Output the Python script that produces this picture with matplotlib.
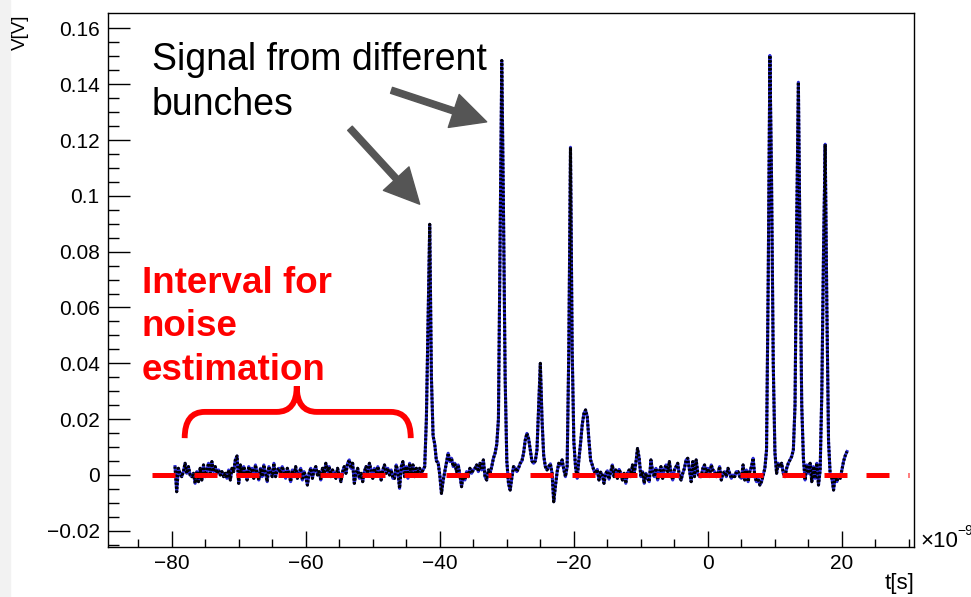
import numpy as np
import matplotlib
matplotlib.use("Agg")
import matplotlib.pyplot as plt
from matplotlib.path import Path
from matplotlib.patches import PathPatch, FancyArrowPatch, Rectangle

plt.rcParams['font.family'] = ['Liberation Sans', 'DejaVu Sans']

# ---------------- data ----------------
t_start_ns = -79.5      # first sample time [ns]
dt_ns = 0.25            # sampling interval [ns]

# waveform samples in mV, 20 samples (5 ns) per row
signal_mV = [
    3.0, -6.0, 2.4, 0.6, -0.6, 1.2, 4.2, 0.6, 3.0, 0.0, -0.6, 0.6, -3.0, 1.2, -2.4, 2.4, -1.8, 3.6, -0.6, 1.8,      # -79.5
    4.2, 0.6, 4.8, 1.2, 3.0, 0.6, 1.8, 0.0, 1.2, -0.6, 0.6, -1.2, 1.8, -1.8, 2.4, 1.2, 5.4, 6.8, -3.0, 3.6,        # -74.5
    0.0, 3.0, 1.2, -1.8, 3.0, 0.6, 2.4, -1.2, 3.6, 0.6, -1.8, 2.4, -0.6, 3.6, 0.6, -2.4, 3.0, 1.2, -0.6, 4.2,      # -69.5
    -0.6, 1.8, 2.4, 0.6, 3.0, 1.2, -1.2, 2.4, 0.6, -2.4, 1.8, -0.6, 3.0, -1.2, 0.6, 2.4, -1.8, 1.2, -0.6, -3.6,    # -64.5
    0.6, 2.4, -1.2, 1.8, 3.0, 0.0, 1.2, -1.8, 2.4, 0.6, 4.2, 1.2, 3.0, -0.6, 1.8, 0.6, -1.2, 2.4, 0.0, -2.4,       # -59.5
    1.2, 3.0, 0.6, 4.2, 5.4, 2.4, 4.2, -3.0, 0.6, 2.4, -1.2, 0.6, -2.4, 1.2, 3.0, 0.6, 4.2, 1.8, -1.2, 2.4,        # -54.5
    0.0, 3.0, 1.2, -1.8, 1.8, 3.6, 0.6, 2.4, 0.0, 1.8, -1.2, -1.2, 3.6, 1.2, -4.8, 3.0, 4.8, -0.6, 3.0, -1.2,      # -49.5
    4.2, 0.0, 3.6, -0.6, 2.4, 1.2, 2.4, 0.6, 1.8, 3.0, 20.0, 55.0, 89.8, 35.0, 14.0, 11.0, 5.0, 4.5, 0.0, -6.6,    # -44.5
    -2.0, 1.2, 4.2, 7.8, 4.8, 6.0, 3.0, 4.2, 1.2, 3.6, 0.0, -4.2, 0.0, -1.8, 1.2, -0.6, 2.4, 0.6, 1.8, 2.4,       # -39.5
    3.6, 1.2, 4.2, 1.8, 5.4, -0.6, -1.8, 1.8, 0.6, 3.0, 6.0, 7.8, 11.0, 20.0, 85.0, 148.5, 95.0, 35.0, 5.0, -3.0, # -34.5
    -5.4, -1.0, 3.0, 2.5, 1.2, 2.5, 4.2, 5.0, 7.8, 12.5, 14.9, 13.0, 9.0, 5.0, 4.2, 5.0, 9.0, 25.0, 40.0, 20.0,   # -29.5
    7.0, 3.0, 1.8, 3.0, 4.0, 0.6, -9.6, -4.0, 1.0, 4.2, 3.5, 5.4, 2.0, -0.6, 3.0, 45.0, 117.4, 45.0, 12.0, 3.0,   # -24.5
    -1.2, 5.4, 11.3, 18.0, 22.0, 23.3, 20.9, 12.5, 5.4, 3.6, 1.5, 0.6, 2.0, -1.8, 1.0, 0.0, -3.0, 0.5, 1.5, -1.5, # -19.5
    1.2, 3.6, -0.6, 1.8, -1.2, 2.0, 0.6, -1.8, 0.6, -3.0, 0.6, 1.8, -0.6, 3.6, 0.6, 4.2, 9.5, 6.0, -0.6, 1.2,     # -14.5
    -3.0, 0.6, -1.2, -2.4, 5.4, 1.2, -0.6, 2.4, -1.8, 1.2, 3.0, -1.2, 2.0, 3.6, 1.2, 4.8, 0.6, -1.8, 1.8, 3.0,    # -9.5
    4.2, -0.6, -1.8, 0.6, 2.4, 5.4, 6.0, 1.8, -2.4, 4.8, -0.6, 5.4, 0.6, -0.6, -0.6, 2.4, 3.6, 0.6, 2.4, -0.6,    # -4.5
    3.6, 1.8, 1.2, -0.6, 0.6, 3.0, -1.8, 0.6, 1.2, -0.6, 2.4, 0.6, -1.2, 0.0, -0.6, 1.2, 1.2, -0.6, -1.2, 3.6,    # 0.5
    -1.8, 1.8, -2.4, 1.2, 3.0, 6.0, -0.6, -2.4, -1.2, -3.6, -2.4, 0.0, 2.4, 9.0, 70.0, 150.3, 105.0, 40.0, 8.0, 0.6,  # 5.5
    4.2, 3.0, 4.2, 0.6, -0.6, 2.4, 4.2, 5.4, 6.6, 9.0, 25.0, 90.0, 140.7, 80.0, 25.0, 6.0, -1.8, 3.6, 0.6, 4.2,   # 10.5
    -2.4, 3.0, -1.2, 4.2, -3.6, 1.8, 30.0, 80.0, 118.5, 60.0, 12.0, 0.0, -1.2, -5.4, 0.0, -2.4, 0.0, -1.2, 1.8, 5.0,  # 15.5
    7.0, 8.4,                                                                                                         # 20.5
]

noise_level_V = 0.0
noise_line_ns = [-83.0, 30.0]

x_ticks = [-80, -60, -40, -20, 0, 20]
x_tick_labels = ['\u221280', '\u221260', '\u221240', '\u221220', '0', '20']
y_ticks = [-0.02, 0.0, 0.02, 0.04, 0.06, 0.08, 0.10, 0.12, 0.14, 0.16]
y_tick_labels = ['\u22120.02', '0', '0.02', '0.04', '0.06', '0.08', '0.1', '0.12', '0.14', '0.16']

t_ns = t_start_ns + dt_ns * np.arange(len(signal_mV))
v_V = np.array(signal_mV) * 1e-3

# ---------------- figure ----------------
W, H = 971, 597
fig = plt.figure(figsize=(W / 100, H / 100), dpi=100)
fig.patch.set_facecolor('white')
fig.add_artist(Rectangle((0, 0), 10 / W, 1, transform=fig.transFigure,
                         color='#f2f2f2', zorder=0))

ax = fig.add_axes([108 / W, 50 / H, 806 / W, 534 / H])

ax.plot(t_ns, v_V, color='#2b2bd6', lw=2.2, zorder=2)
ax.plot(t_ns, v_V, color='#000000', lw=2.2, ls=(0, (0.7, 0.6)), zorder=3)
ax.plot(noise_line_ns, [noise_level_V] * 2, color='#ff0000', lw=3.6,
        ls=(0, (4.6, 3.8)), dash_capstyle='butt', zorder=4)

ax.set_xlim(-89.5, 30.75)
ax.set_ylim(-0.0258, 0.1655)
ax.set_xticks(x_ticks)
ax.set_xticklabels(x_tick_labels)
ax.set_xticks(np.arange(-85, 31, 5), minor=True)
ax.set_yticks(y_ticks)
ax.set_yticklabels(y_tick_labels)
ax.set_yticks(np.arange(-0.025, 0.1626, 0.005), minor=True)
ax.tick_params(axis='x', which='major', direction='in', length=11.5, width=1,
               labelsize=15, pad=5, top=False)
ax.tick_params(axis='x', which='minor', direction='in', length=5.8, width=1, top=False)
ax.tick_params(axis='y', which='major', direction='in', length=16, width=1,
               labelsize=15, pad=6, right=False)
ax.tick_params(axis='y', which='minor', direction='in', length=8, width=1, right=False)
for s in ax.spines.values():
    s.set_linewidth(1.0)
    s.set_color('black')

# axis titles (ROOT style)
def fx(px):
    return px / W

def fy(py):
    return 1 - py / H

fig.text(fx(20), fy(14), 'V[V]', rotation=90, ha='center', va='top', fontsize=13.5)
fig.text(fx(914), fy(583), 't[s]', ha='right', va='center', fontsize=16)
fig.text(fx(920), fy(547), '\u00d710', ha='left', va='baseline', fontsize=16)
fig.text(fx(957), fy(535), '\u22129', ha='left', va='baseline', fontsize=10)

# annotations
fig.text(fx(152), fy(115), 'Signal from different\nbunches', ha='left', va='baseline',
         fontsize=27, color='black', linespacing=1.32)
fig.text(fx(142), fy(380), 'Interval for\nnoise\nestimation', ha='left', va='baseline',
         fontsize=26.5, color='#ff0000', fontweight='bold', linespacing=1.32)

for a, b in [((-47.2, 0.1378), (-33.0, 0.1265)), ((-53.4, 0.1242), (-43.0, 0.0970))]:
    ax.add_patch(FancyArrowPatch(a, b, arrowstyle='simple,head_length=1.0,head_width=1.0,tail_width=0.18',
                                 mutation_scale=25, color='#555555', shrinkA=0, shrinkB=0,
                                 zorder=6, clip_on=False))

brace_pts = [(-78.06, 0.0132), (-78.06, 0.0226), (-75.07, 0.0226), (-64.33, 0.0226),
             (-61.34, 0.0226), (-61.34, 0.0318), (-61.34, 0.0226), (-58.36, 0.0226),
             (-47.31, 0.0226), (-44.33, 0.0226), (-44.33, 0.0132)]
brace_codes = [Path.MOVETO, Path.CURVE3, Path.CURVE3, Path.LINETO,
               Path.CURVE3, Path.CURVE3, Path.CURVE3, Path.CURVE3,
               Path.LINETO, Path.CURVE3, Path.CURVE3]
ax.add_patch(PathPatch(Path(brace_pts, brace_codes), fill=False, edgecolor='#ff0000',
                       lw=4.2, capstyle='butt', zorder=5))

fig.savefig('out.png', dpi=100, facecolor=fig.get_facecolor())
